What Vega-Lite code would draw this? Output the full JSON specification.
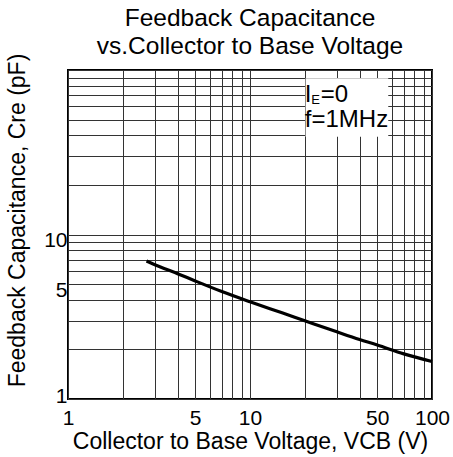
{
  "$schema": "https://vega.github.io/schema/vega-lite/v6.json",
  "width": 364,
  "height": 329,
  "autosize": {"type": "none"},
  "padding": {"left": 68, "top": 70, "right": 21, "bottom": 58},
  "background": "white",
  "config": {
    "font": "Liberation Sans",
    "view": {"stroke": "black", "strokeWidth": 2},
    "axis": {
      "grid": true,
      "gridColor": "#333333",
      "gridWidth": 1,
      "gridOpacity": 1,
      "ticks": false,
      "domain": false,
      "labelFont": "Liberation Sans",
      "labelFontSize": 21,
      "labelColor": "black",
      "labelOverlap": false,
      "labelFlush": false,
      "titleFont": "Liberation Sans",
      "titleFontSize": 23,
      "titleFontWeight": "normal",
      "titleColor": "black"
    }
  },
  "title": {
    "text": ["Feedback Capacitance", "vs.Collector to Base Voltage"],
    "font": "Liberation Sans",
    "fontSize": 24.5,
    "fontWeight": "normal",
    "color": "black",
    "anchor": "middle",
    "lineHeight": 28,
    "offset": 5,
    "dy": 11
  },
  "data": {
    "values": [
      {"vcb": 2.7, "cre": 6.9},
      {"vcb": 3, "cre": 6.55},
      {"vcb": 4, "cre": 5.78},
      {"vcb": 5, "cre": 5.22},
      {"vcb": 7, "cre": 4.5},
      {"vcb": 10, "cre": 3.9},
      {"vcb": 15, "cre": 3.34},
      {"vcb": 20, "cre": 2.99},
      {"vcb": 30, "cre": 2.56},
      {"vcb": 40, "cre": 2.3},
      {"vcb": 50, "cre": 2.13},
      {"vcb": 70, "cre": 1.88},
      {"vcb": 100, "cre": 1.69}
    ]
  },
  "layer": [
    {
      "mark": {"type": "line", "color": "black", "strokeWidth": 3.2, "interpolate": "monotone"},
      "encoding": {
        "x": {
          "field": "vcb",
          "type": "quantitative",
          "scale": {"type": "log", "domain": [1, 100], "nice": false},
          "axis": {
            "values": [1, 2, 3, 4, 5, 6, 7, 8, 9, 10, 20, 30, 40, 50, 60, 70, 80, 90, 100],
            "labelExpr": "indexof([1,5,10,50,100], datum.value) >= 0 ? datum.label : ''",
            "labelPadding": 8,
            "title": "Collector to Base Voltage, VCB (V)",
            "titleX": 182,
            "titleY": 49,
            "titleAlign": "center",
            "titleBaseline": "alphabetic"
          }
        },
        "y": {
          "field": "cre",
          "type": "quantitative",
          "scale": {"type": "log", "domain": [1, 100], "nice": false},
          "axis": {
            "values": [1, 2, 3, 4, 5, 6, 7, 8, 9, 10, 20, 30, 40, 50, 60, 70, 80, 90, 100],
            "labelExpr": "indexof([1,5,10], datum.value) >= 0 ? datum.label : ''",
            "labelPadding": 1,
            "labelOffset": {"condition": {"test": "datum.value == 1", "value": -3}, "value": 6},
            "title": "Feedback Capacitance, Cre (pF)",
            "titleX": -44,
            "titleY": 150,
            "titleAlign": "center",
            "titleBaseline": "alphabetic"
          }
        }
      }
    },
    {
      "data": {"values": [{}]},
      "mark": {"type": "rect", "fill": "white", "stroke": null},
      "encoding": {
        "x": {"datum": 20.2, "type": "quantitative"},
        "x2": {"datum": 57.5},
        "y": {"datum": 39.3, "type": "quantitative"},
        "y2": {"datum": 89}
      }
    },
    {
      "data": {"values": [{}]},
      "mark": {"type": "text", "text": "I", "align": "left", "baseline": "alphabetic", "fontSize": 24, "fontWeight": "normal", "fill": "black", "stroke": null, "dx": 0},
      "encoding": {
        "x": {"datum": 20, "type": "quantitative"},
        "y": {"datum": 64.2, "type": "quantitative"}
      }
    },
    {
      "data": {"values": [{}]},
      "mark": {"type": "text", "text": "E", "align": "left", "baseline": "alphabetic", "fontSize": 13, "fontWeight": "normal", "fill": "black", "stroke": null, "dx": 6.5, "dy": 2},
      "encoding": {
        "x": {"datum": 20, "type": "quantitative"},
        "y": {"datum": 64.2, "type": "quantitative"}
      }
    },
    {
      "data": {"values": [{}]},
      "mark": {"type": "text", "text": "=0", "align": "left", "baseline": "alphabetic", "fontSize": 24, "fontWeight": "normal", "fill": "black", "stroke": null, "dx": 16},
      "encoding": {
        "x": {"datum": 20, "type": "quantitative"},
        "y": {"datum": 64.2, "type": "quantitative"}
      }
    },
    {
      "data": {"values": [{}]},
      "mark": {"type": "text", "text": "f=1MHz", "align": "left", "baseline": "alphabetic", "fontSize": 24, "fontWeight": "normal", "fill": "black", "stroke": null, "dx": 0},
      "encoding": {
        "x": {"datum": 20, "type": "quantitative"},
        "y": {"datum": 45.2, "type": "quantitative"}
      }
    }
  ]
}
